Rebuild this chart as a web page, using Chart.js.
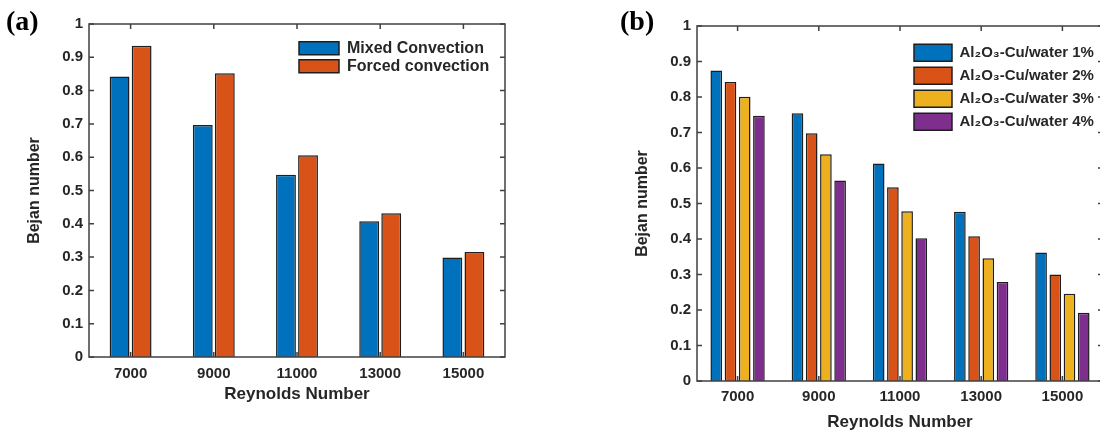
<!DOCTYPE html>
<html>
<head>
<meta charset="utf-8">
<title>Bejan number vs Reynolds number</title>
<script src="https://cdn.jsdelivr.net/npm/chart.js@4.4.0/dist/chart.umd.min.js"></script>
<style>
    html, body { margin: 0; padding: 0; background: #fff; width: 1100px; height: 435px; overflow: hidden; }
    .panel { position: absolute; top: 0; height: 435px; }
    #panelA { left: 0; width: 550px; }
    #panelB { left: 560px; width: 560px; }
    .tag { position: absolute; top: 7px; font-family: "Liberation Serif", "Times New Roman", serif; font-weight: bold; font-size: 28px; line-height: 28px; color: #000; }
</style>
</head>
<body>
<div class="panel" id="panelA"><canvas id="chartA"></canvas></div>
<div class="panel" id="panelB"><canvas id="chartB"></canvas></div>
<div class="tag" style="left: 6px;">(a)</div>
<div class="tag" style="left: 620px;">(b)</div>

<script>
// Reynolds number categories (x axis)
const reynolds = ['7000', '9000', '11000', '13000', '15000'];

// (a) Bejan number, mixed vs forced convection
const mixedConvection = [0.842, 0.697, 0.547, 0.408, 0.299];
const forcedConvection = [0.935, 0.852, 0.606, 0.432, 0.315];

// (b) Bejan number for the hybrid nanofluid at 1..4 %
const hybrid1 = [0.875, 0.754, 0.613, 0.477, 0.362];
const hybrid2 = [0.842, 0.698, 0.546, 0.408, 0.300];
const hybrid3 = [0.801, 0.639, 0.478, 0.346, 0.246];
const hybrid4 = [0.747, 0.565, 0.402, 0.279, 0.192];
const hybridLabels = ['Al₂O₃-Cu/water 1%', 'Al₂O₃-Cu/water 2%', 'Al₂O₃-Cu/water 3%', 'Al₂O₃-Cu/water 4%'];

// y axis range
const yMin = 0;
const yMax = 1;
const yStep = 0.1;

const blue = '#0072BD';
const orange = '#D95319';
const yellow = '#EDB120';
const purple = '#7E2F8E';
const textColor = '#262626';
const edgeColor = '#1e1e1e';

Chart.defaults.font.family = '"Liberation Sans", Arial, Helvetica, sans-serif';
Chart.defaults.font.weight = 'bold';
Chart.defaults.color = textColor;

// moves the chartArea legend to a spot inside the axes
const legendInside = {
    id: 'legendInside',
    afterLayout(chart, args, opts) {
        const legend = chart.legend;
        if (!legend || opts.left === undefined) return;
        const dx = opts.left - legend.left;
        const dy = opts.top - legend.top;
        legend.left += dx; legend.right += dx;
        legend.top += dy; legend.bottom += dy;
    }
};

// matlab style box with inward ticks
const boxAxes = {
    id: 'boxAxes',
    afterDatasetsDraw(chart, args, opts) {
        const { ctx, chartArea: area } = chart;
        const x = chart.scales.x;
        const y = chart.scales.y;
        const len = opts.tickLength || 5;
        ctx.save();
        ctx.strokeStyle = opts.color || '#404040';
        ctx.lineWidth = opts.lineWidth || 1.5;
        ctx.beginPath();
        y.ticks.forEach(function(t) {
            const py = y.getPixelForValue(t.value);
            ctx.moveTo(area.left, py); ctx.lineTo(area.left + len, py);
            ctx.moveTo(area.right, py); ctx.lineTo(area.right - len, py);
        });
        x.ticks.forEach(function(t, i) {
            const px = x.getPixelForTick(i);
            ctx.moveTo(px, area.bottom); ctx.lineTo(px, area.bottom - len);
            ctx.moveTo(px, area.top); ctx.lineTo(px, area.top + len);
        });
        ctx.stroke();
        ctx.strokeRect(area.left, area.top, area.right - area.left, area.bottom - area.top);
        ctx.restore();
    }
};

function barSet(label, data, color) {
    return {
        label: label,
        data: data,
        backgroundColor: color,
        borderColor: edgeColor,
        borderWidth: 1.5
    };
}

// 0, 0.1 ... 1 like matlab (no trailing zero)
function plainTick(value) {
    return String(+value.toFixed(1));
}

document.addEventListener('DOMContentLoaded', function() {
    // (a) Mixed vs forced convection
    const ctxA = document.getElementById('chartA');
    if (ctxA) {
        new Chart(ctxA, {
            type: 'bar',
            data: {
                labels: reynolds,
                datasets: [
                    barSet('Mixed Convection', mixedConvection, blue),
                    barSet('Forced convection', forcedConvection, orange)
                ]
            },
            options: {
                responsive: true,
                maintainAspectRatio: false,
                animation: false,
                categoryPercentage: 0.53,
                barPercentage: 0.9,
                layout: { padding: { top: 24, right: 45, bottom: 0, left: 0 } },
                scales: {
                    x: {
                        grid: { display: false, drawTicks: false },
                        border: { display: false },
                        ticks: { font: { size: 15 }, padding: 8 },
                        title: { display: true, text: 'Reynolds Number', font: { size: 17 }, padding: { top: 0, bottom: 30 } },
                        afterFit: function(s) { s.height = 78; }
                    },
                    y: {
                        min: yMin,
                        max: yMax,
                        grid: { display: false, drawTicks: false },
                        border: { display: false },
                        ticks: { stepSize: yStep, font: { size: 15 }, padding: 6, callback: plainTick },
                        title: { display: true, text: 'Bejan number', font: { size: 16 }, padding: { top: 25, bottom: 0 } },
                        afterFit: function(s) { s.width = 89; }
                    }
                },
                plugins: {
                    legend: {
                        position: 'chartArea',
                        align: 'start',
                        labels: { font: { size: 16 }, color: textColor, boxWidth: 40, boxHeight: 13, padding: 2 }
                    },
                    legendInside: { left: 297, top: 38.2 },
                    boxAxes: { color: '#404040', lineWidth: 1.5, tickLength: 5 },
                    tooltip: { enabled: false }
                }
            },
            plugins: [legendInside, boxAxes]
        });
    }

    // (b) Hybrid nanofluid concentrations
    const ctxB = document.getElementById('chartB');
    if (ctxB) {
        new Chart(ctxB, {
            type: 'bar',
            data: {
                labels: reynolds,
                datasets: [
                    barSet(hybridLabels[0], hybrid1, blue),
                    barSet(hybridLabels[1], hybrid2, orange),
                    barSet(hybridLabels[2], hybrid3, yellow),
                    barSet(hybridLabels[3], hybrid4, purple)
                ]
            },
            options: {
                responsive: true,
                maintainAspectRatio: false,
                animation: false,
                categoryPercentage: 0.70,
                barPercentage: 0.82,
                layout: { padding: { top: 26, right: 17, bottom: 0, left: 0 } },
                scales: {
                    x: {
                        grid: { display: false, drawTicks: false },
                        border: { display: false },
                        ticks: { font: { size: 15 }, padding: 7 },
                        title: { display: true, text: 'Reynolds Number', font: { size: 17 }, padding: { top: 0, bottom: 2 } },
                        afterFit: function(s) { s.height = 54; }
                    },
                    y: {
                        min: yMin,
                        max: yMax,
                        grid: { display: false, drawTicks: false },
                        border: { display: false },
                        ticks: { stepSize: yStep, font: { size: 15 }, padding: 6, callback: plainTick },
                        title: { display: true, text: 'Bejan number', font: { size: 16 }, padding: { top: 73, bottom: 0 } },
                        afterFit: function(s) { s.width = 137; }
                    }
                },
                plugins: {
                    legend: {
                        position: 'chartArea',
                        align: 'start',
                        labels: { font: { size: 15 }, color: textColor, boxWidth: 38, boxHeight: 17, padding: 6 }
                    },
                    legendInside: { left: 348, top: 38.3 },
                    boxAxes: { color: '#404040', lineWidth: 1.5, tickLength: 5 },
                    tooltip: { enabled: false }
                }
            },
            plugins: [legendInside, boxAxes]
        });
    }
});
</script>
</body>
</html>
